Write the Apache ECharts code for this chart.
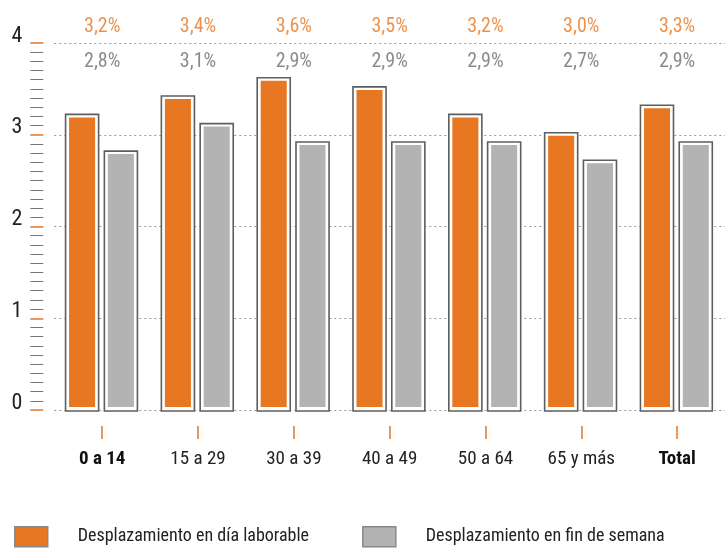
<!DOCTYPE html>
<html>
<head>
<meta charset="utf-8">
<script src="https://cdn.jsdelivr.net/npm/echarts@6/dist/echarts.min.js"></script>
<style>
html, body { margin: 0; padding: 0; background: #fff; }
#chart { width: 725px; height: 548px; }
</style>
</head>
<body>
<div id="chart"></div>
<script>
var categories = ['0 a 14', '15 a 29', '30 a 39', '40 a 49', '50 a 64', '65 y más', 'Total'];
var laborable = [3.2, 3.4, 3.6, 3.5, 3.2, 3.0, 3.3];
var finSemana = [2.8, 3.1, 2.9, 2.9, 2.9, 2.7, 2.9];
var laborableLabels = ['3,2%', '3,4%', '3,6%', '3,5%', '3,2%', '3,0%', '3,3%'];
var finSemanaLabels = ['2,8%', '3,1%', '2,9%', '2,9%', '2,9%', '2,7%', '2,9%'];
var yTicks = [0, 1, 2, 3, 4];
var seriesNames = ['Desplazamiento en día laborable', 'Desplazamiento en fin de semana'];

var ORANGE = '#e87722';
var GREY = '#b3b3b3';
var FONT = '"Roboto Condensed", "DejaVu Sans Condensed", sans-serif';

// bar with a white gap and a dark outline around the fill
function barRenderer(offset, fillColor) {
    return function (params, api) {
        var top = api.coord([api.value(0), api.value(1)]);
        var base = api.coord([api.value(0), 0]);
        var band = api.size([1, 0])[0];
        var w = band * 0.345;
        var cx = top[0] + band * offset;
        return {
            type: 'group',
            children: [
                {
                    type: 'rect',
                    shape: {x: cx - w / 2, y: top[1] - 2, width: w, height: base[1] - top[1] + 3},
                    style: {fill: '#fff', stroke: '#5e5e5e', lineWidth: 1.6}
                },
                {
                    type: 'rect',
                    shape: {x: cx - w / 2 + 3.5, y: top[1] + 1, width: w - 7, height: base[1] - top[1] - 4},
                    style: {fill: fillColor}
                }
            ]
        };
    };
}

var topValue = yTicks[yTicks.length - 1];
var labelPos = categories.map(function (c, i) { return [i, topValue]; });

var chart = echarts.init(document.getElementById('chart'));
var option = {
    animation: false,
    grid: {left: 54.3, right: -24.7, top: 43, bottom: 138},
    legend: {
        left: 14,
        top: 526,
        padding: 0,
        icon: 'rect',
        itemWidth: 33,
        itemHeight: 20,
        itemGap: 53,
        textStyle: {fontFamily: FONT, fontSize: 18, color: '#222', padding: [0, 0, 0, 25]},
        data: [
            {name: seriesNames[0], itemStyle: {color: ORANGE, borderColor: '#888', borderWidth: 1.5}},
            {name: seriesNames[1], itemStyle: {color: GREY, borderColor: '#888', borderWidth: 1.5}}
        ]
    },
    xAxis: {
        type: 'category',
        data: categories,
        axisLine: {show: false, onZero: false},
        // tick starts 16px below the baseline: gap then 13px mark
        axisTick: {
            show: true, alignWithLabel: true, length: 29,
            lineStyle: {color: ORANGE, width: 1.5, type: [0, 16, 13, 100]}
        },
        axisLabel: {
            interval: 0,
            margin: 40,
            fontFamily: FONT,
            fontSize: 19,
            color: '#222',
            formatter: function (v, i) {
                return (i === 0 || i === categories.length - 1) ? '{b|' + v + '}' : v;
            },
            rich: {b: {fontFamily: FONT, fontSize: 19, fontWeight: 'bold', color: '#111'}}
        },
        splitLine: {show: false}
    },
    yAxis: {
        type: 'value',
        min: yTicks[0],
        max: topValue,
        interval: 1,
        offset: 11,
        axisLine: {show: false},
        axisTick: {show: true, length: 13, lineStyle: {color: ORANGE, width: 1.5}},
        minorTick: {show: true, splitNumber: 10, length: 13, lineStyle: {color: '#777', width: 1}},
        axisLabel: {
            margin: 21, fontFamily: FONT, fontSize: 22, color: '#222',
            verticalAlign: 'bottom', lineHeight: 14
        },
        splitLine: {show: true, lineStyle: {color: '#999', type: [2, 3], width: 1}}
    },
    series: [
        {
            name: seriesNames[0],
            type: 'custom',
            itemStyle: {color: ORANGE},
            renderItem: barRenderer(-0.21, ORANGE),
            encode: {x: 0, y: 1},
            data: laborable.map(function (v, i) { return [i, v]; })
        },
        {
            name: seriesNames[1],
            type: 'custom',
            itemStyle: {color: GREY},
            renderItem: barRenderer(0.195, GREY),
            encode: {x: 0, y: 1},
            data: finSemana.map(function (v, i) { return [i, v]; })
        },
        {
            type: 'scatter',
            silent: true,
            symbolSize: 0,
            data: labelPos,
            label: {
                show: true, position: 'top', distance: 6,
                fontFamily: FONT, fontSize: 20, color: ORANGE,
                formatter: function (p) { return laborableLabels[p.dataIndex]; }
            }
        },
        {
            type: 'scatter',
            silent: true,
            symbolSize: 0,
            data: labelPos,
            label: {
                show: true, position: 'bottom', distance: 9,
                fontFamily: FONT, fontSize: 20, color: '#6e6e6e',
                formatter: function (p) { return finSemanaLabels[p.dataIndex]; }
            }
        }
    ]
};
chart.setOption(option);
</script>
</body>
</html>
